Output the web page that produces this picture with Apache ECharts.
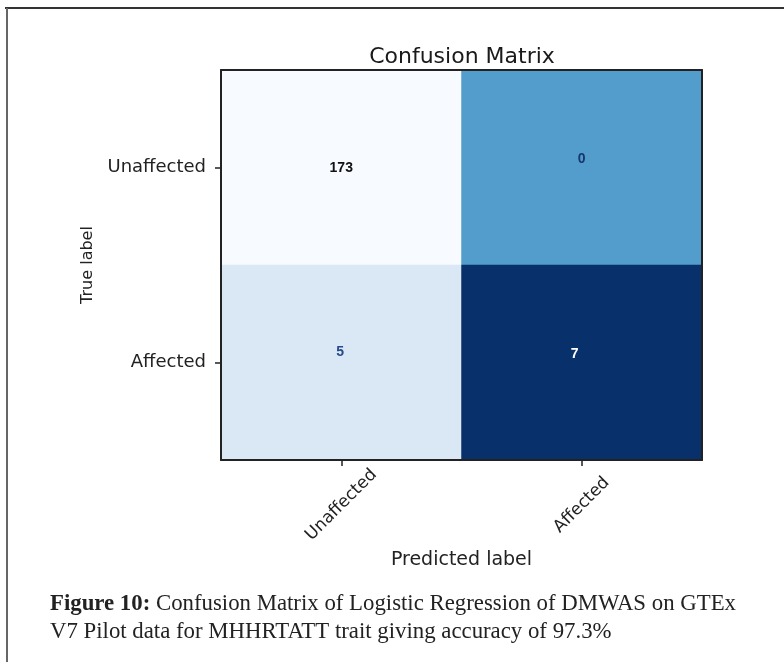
<!DOCTYPE html>
<html>
<head>
<meta charset="utf-8">
<script src="https://cdn.jsdelivr.net/npm/echarts@6/dist/echarts.min.js"></script>
<style>
  html, body { margin: 0; padding: 0; background: #fff; }
  #chart { width: 784px; height: 662px; }
</style>
</head>
<body>
<div id="chart"></div>
<script>
// Class names along both axes
const predictedLabels = ['Unaffected', 'Affected'];
const trueLabels = ['Unaffected', 'Affected'];

// Counts, one row per true class: [predicted Unaffected, predicted Affected]
const countsUnaffected = [173, 0];
const countsAffected = [5, 7];

// Cell fill shades (Blues colormap) and label colours, same row order
const cellColors = [['#f7fbff', '#539dcc'], ['#dae8f5', '#08306b']];
const textColors = [['#111111', '#17376e'], ['#264a8c', '#ffffff']];
const labelOffsets = [[[0, 1], [0, -8]], [[-1, -10], [-7, -8]]];

const rows = [countsUnaffected, countsAffected];
const cells = [];
rows.forEach((row, r) => {
  row.forEach((v, c) => {
    cells.push({
      value: [c, r, v],
      itemStyle: { color: cellColors[r][c] },
      label: { color: textColors[r][c], offset: labelOffsets[r][c] }
    });
  });
});

const chart = echarts.init(document.getElementById('chart'), null, { renderer: 'canvas' });
const axisFont = 'DejaVu Sans';
const frame = { show: true, lineStyle: { color: '#222', width: 2 } };
const tick = { show: true, alignWithLabel: true, length: 6, lineStyle: { color: '#222', width: 1.5 } };

chart.setOption({
  animation: false,
  backgroundColor: '#ffffff',
  title: {
    text: 'Confusion Matrix',
    left: 457,
    top: 41,
    textAlign: 'center',
    textStyle: { fontFamily: axisFont, fontSize: 22, fontWeight: 'normal', color: '#1a1a1a' }
  },
  grid: { left: 221, top: 70, width: 481, height: 390 },
  xAxis: [{
    type: 'category',
    data: predictedLabels,
    position: 'bottom',
    z: 5,
    name: 'Predicted label',
    nameLocation: 'middle',
    nameGap: 75,
    nameTextStyle: { fontFamily: axisFont, fontSize: 19, color: '#222' },
    axisLine: frame,
    axisTick: tick,
    axisLabel: {
      rotate: 45, margin: 45, align: 'center', verticalAlign: 'middle',
      fontFamily: axisFont, fontSize: 17, color: '#222'
    },
    splitLine: { show: false }
  }, {
    type: 'category',
    data: predictedLabels,
    position: 'top',
    z: 5,
    axisLine: frame,
    axisTick: { show: false },
    axisLabel: { show: false },
    splitLine: { show: false }
  }],
  yAxis: [{
    type: 'category',
    data: trueLabels,
    inverse: true,
    position: 'left',
    z: 5,
    name: 'True label',
    nameLocation: 'middle',
    nameGap: 125,
    nameTextStyle: { fontFamily: axisFont, fontSize: 16, color: '#222' },
    axisLine: frame,
    axisTick: tick,
    axisLabel: { margin: 15, fontFamily: axisFont, fontSize: 18, color: '#222' },
    splitLine: { show: false }
  }, {
    type: 'category',
    data: trueLabels,
    inverse: true,
    position: 'right',
    z: 5,
    axisLine: frame,
    axisTick: { show: false },
    axisLabel: { show: false },
    splitLine: { show: false }
  }],
  series: [{
    type: 'heatmap',
    data: cells,
    label: {
      show: true,
      formatter: p => p.value[2],
      fontFamily: 'Liberation Sans',
      fontWeight: 'bold',
      fontSize: 14
    },
    emphasis: { disabled: true }
  }],
  graphic: [
    { type: 'line', shape: { x1: 5, y1: 8, x2: 784, y2: 8 }, style: { stroke: '#333', lineWidth: 2 } },
    { type: 'line', shape: { x1: 7, y1: 8, x2: 7, y2: 662 }, style: { stroke: '#666', lineWidth: 2 } },
    {
      type: 'text', left: 50, top: 590,
      style: {
        text: '{b|Figure 10:} Confusion Matrix of Logistic Regression of DMWAS on GTEx\nV7 Pilot data for MHHRTATT trait giving accuracy of 97.3%',
        fontFamily: 'Liberation Serif', fontSize: 22.8, lineHeight: 28, fill: '#222',
        rich: { b: { fontFamily: 'Liberation Serif', fontWeight: 'bold', fontSize: 22.8, fill: '#222' } }
      }
    }
  ]
});
</script>
</body>
</html>
